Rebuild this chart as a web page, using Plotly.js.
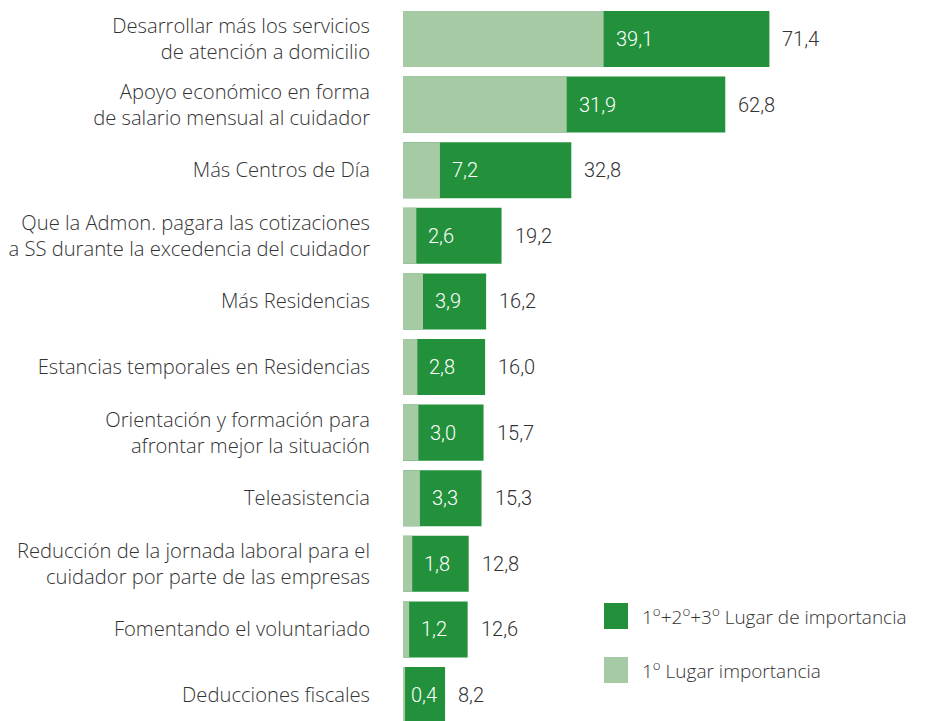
<!DOCTYPE html>
<html>
<head>
<meta charset="utf-8">
<script src="https://cdn.plot.ly/plotly-3.0.1.min.js"></script>
<style>html,body{margin:0;padding:0;background:#fff;}#chart{width:929px;height:721px;}</style>
</head>
<body>
<div id="chart"></div>
<script>
var categories = [
  "Desarrollar más los servicios<br>de atención a domicilio",
  "Apoyo económico en forma<br>de salario mensual al cuidador",
  "Más Centros de Día",
  "Que la Admon. pagara las cotizaciones<br>a SS durante la excedencia del cuidador",
  "Más Residencias",
  "Estancias temporales en Residencias",
  "Orientación y formación para<br>afrontar mejor la situación",
  "Teleasistencia",
  "Reducción de la jornada laboral para el<br>cuidador por parte de las empresas",
  "Fomentando el voluntariado",
  "Deducciones fiscales"
];
var firstPlace = [39.1, 31.9, 7.2, 2.6, 3.9, 2.8, 3.0, 3.3, 1.8, 1.2, 0.4];
var totalPlaces = [71.4, 62.8, 32.8, 19.2, 16.2, 16.0, 15.7, 15.3, 12.8, 12.6, 8.2];
var seriesNames = ["1<sup>o</sup>+2<sup>o</sup>+3<sup>o</sup> Lugar de importancia", "1<sup>o</sup> Lugar importancia"];

var DARK = "#23913b", LIGHT = "#a6caa4", TXT = "#333333";
function fmt(v){ return v.toFixed(1).replace(".", ","); }

var traces = [
  {type:"bar", orientation:"h", y:categories, x:totalPlaces, name:seriesNames[0],
   marker:{color:DARK}, hoverinfo:"skip", showlegend:false},
  {type:"bar", orientation:"h", y:categories, x:firstPlace, name:seriesNames[1],
   marker:{color:LIGHT}, hoverinfo:"skip", showlegend:false}
];

var numFont = {family:"Roboto", size:20, weight:300};
var annotations = [];
for (var i = 0; i < categories.length; i++) {
  annotations.push({x:firstPlace[i], y:categories[i], xref:"x", yref:"y", text:fmt(firstPlace[i]),
    showarrow:false, xanchor:"left", xshift:(firstPlace[i] < 1 ? 4 : 10),
    font:{family:numFont.family, size:numFont.size, weight:numFont.weight, color:"#ffffff"}});
  annotations.push({x:totalPlaces[i], y:categories[i], xref:"x", yref:"y", text:fmt(totalPlaces[i]),
    showarrow:false, xanchor:"left", xshift:11,
    font:{family:numFont.family, size:numFont.size, weight:numFont.weight, color:TXT}});
}
// custom legend
var legColors = [DARK, LIGHT];
var legY = [[0.1276, 0.1637], [0.0527, 0.0888]];
var shapes = [];
for (var k = 0; k < 2; k++) {
  shapes.push({type:"rect", xref:"paper", yref:"paper", x0:0.3821, x1:0.4278, y0:legY[k][0], y1:legY[k][1],
    fillcolor:legColors[k], line:{width:0}});
  annotations.push({xref:"paper", yref:"paper", x:0.4506, y:(legY[k][0]+legY[k][1])/2, text:seriesNames[k],
    showarrow:false, xanchor:"left", yanchor:"middle",
    font:{family:"Open Sans", size:19, weight:300, color:TXT}});
}

var layout = {
  width:929, height:721,
  margin:{l:403, r:0, t:0, b:0},
  paper_bgcolor:"#ffffff", plot_bgcolor:"#ffffff",
  barmode:"overlay", bargap:0.146,
  showlegend:false,
  xaxis:{range:[0, 102.5], visible:false, fixedrange:true},
  yaxis:{type:"category", categoryorder:"array", categoryarray:categories,
    autorange:false, range:[10.396, -0.5945], showgrid:false, zeroline:false, showline:false,
    ticks:"", ticklabelstandoff:32,
    tickfont:{family:"Open Sans", size:20.2, weight:300, color:TXT}, fixedrange:true},
  annotations:annotations, shapes:shapes
};
Plotly.newPlot("chart", traces, layout, {displayModeBar:false, staticPlot:true});
</script>
</body>
</html>
